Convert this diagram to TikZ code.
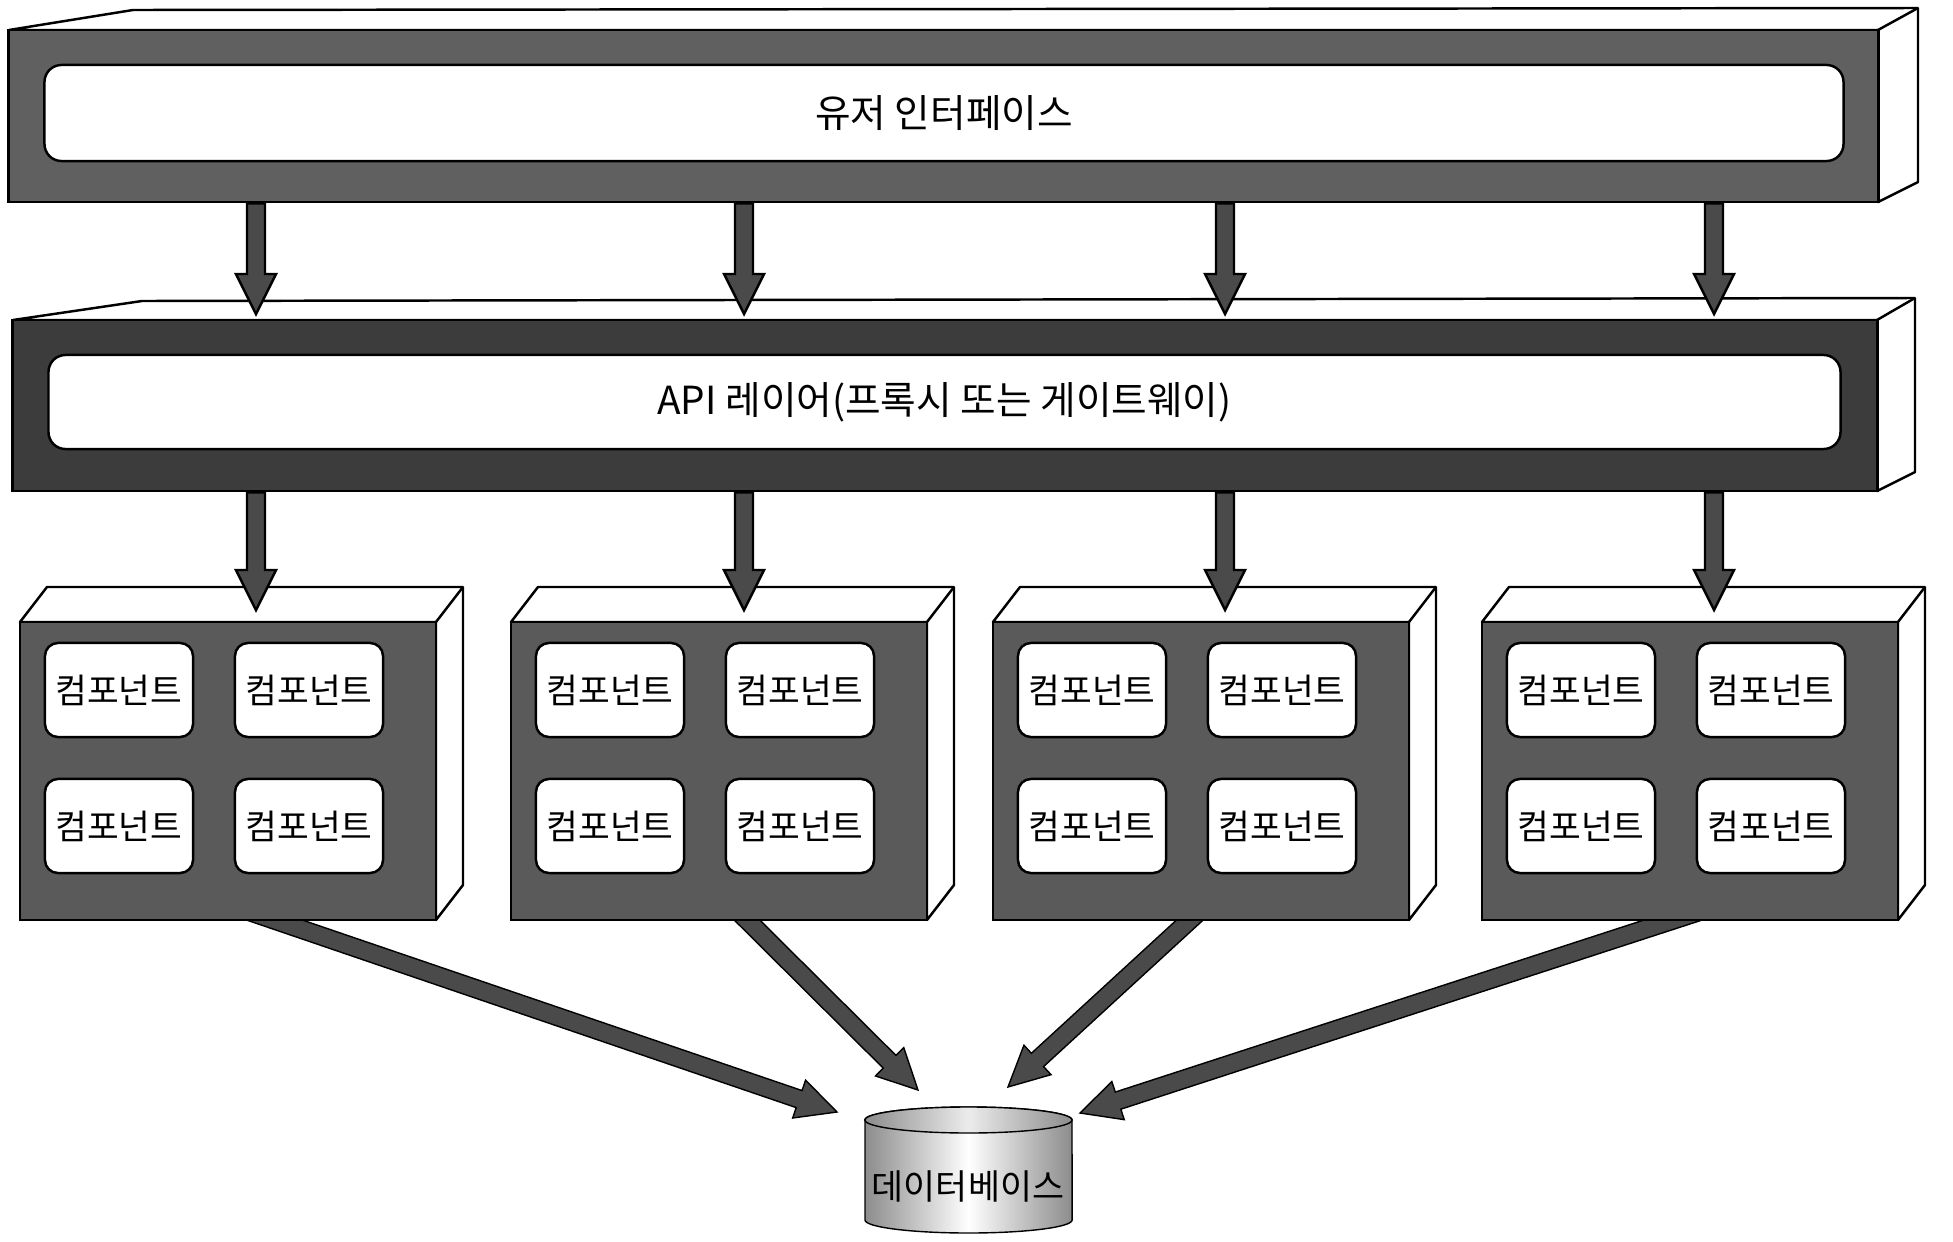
\documentclass[tikz,border=0pt]{standalone}
\usepackage{fontspec}
\setmainfont{Noto Sans CJK KR}
\usepackage{tikz}
\usetikzlibrary{calc}

\definecolor{uigray}{HTML}{606060}
\definecolor{apigray}{HTML}{3C3C3C}
\definecolor{svcgray}{HTML}{5A5A5A}
\definecolor{arrowgray}{HTML}{4A4A4A}
\definecolor{dbgray}{HTML}{8C8C8C}

\pgfdeclarelayer{bg}
\pgfsetlayers{bg,main}

% block arrow from #1 to #2
\newcommand{\fatarrow}[2]{%
  \coordinate (fa) at (#1);
  \coordinate (fb) at (#2);
  \coordinate (fh) at ($(fb)!0.4cm!(fa)$);
  \filldraw[arrowbody] ($(fa)!0.09cm!90:(fb)$) -- ($(fh)!0.09cm!90:(fb)$)
    -- ($(fh)!0.2cm!90:(fb)$) -- (fb) -- ($(fh)!0.2cm!-90:(fb)$)
    -- ($(fh)!0.09cm!-90:(fb)$) -- ($(fa)!0.09cm!-90:(fb)$) -- cycle;
}

\begin{document}
\begin{tikzpicture}[x=0.01cm, y=-0.01cm, line width=0.7pt,
  face/.style={draw, fill=white, line join=round},
  uifront/.style={draw, fill=uigray, minimum width=18.69cm, minimum height=1.72cm, inner sep=0pt},
  apifront/.style={draw, fill=apigray, minimum width=18.64cm, minimum height=1.71cm, inner sep=0pt},
  panel/.style={draw, fill=white, rounded corners=0.17cm, inner sep=0pt, font=\fontsize{11}{13}\selectfont},
  svcbox/.style={draw, fill=svcgray, minimum width=4.16cm, minimum height=2.98cm, inner sep=0pt},
  comp/.style={draw, fill=white, rounded corners=0.13cm, minimum width=1.48cm, minimum height=0.94cm, inner sep=0pt, font=\fontsize{9.8}{12}\selectfont},
  arrowbody/.style={draw, fill=arrowgray, line join=miter},
  dbtext/.style={font=\fontsize{9.9}{12}\selectfont}]

\useasboundingbox (0,0) rectangle (1953,1242);

% User interface bar
\draw[face] (9,30) -- (133,10) -- (1918,8) -- (1918,182) -- (1878,202) -- (1878,30) -- cycle;
\draw (1878,30) -- (1918,8);
\node[uifront] (uibar) at (943.5,116) {};
\node[panel, minimum width=17.98cm, minimum height=0.96cm] (ui) at (944,113) {유저 인터페이스};

% API layer bar
\draw[face] (13,320) -- (142,301) -- (1915,298) -- (1915,472) -- (1877,491) -- (1877,320) -- cycle;
\draw (1877,320) -- (1915,298);
\node[apifront] (apibar) at (945,405.5) {};
\node[panel, minimum width=17.91cm, minimum height=0.94cm] (api) at (944.5,402) {API 레이어(프록시 또는 게이트웨이)};

% Service boxes with four components each
\foreach \i/\cx/\ax in {1/228/256, 2/719/744, 3/1201/1225, 4/1690/1714} {
  \draw[face] (\cx-208,622) -- (\cx-181,587) -- (\cx+235,587) -- (\cx+235,885)
              -- (\cx+208,920) -- (\cx+208,622) -- cycle;
  \draw (\cx+208,622) -- (\cx+235,587);
  \node[svcbox] (svc\i) at (\cx,771) {};
  \node[comp] (comp\i1) at (\cx-109,690) {컴포넌트};
  \node[comp] (comp\i2) at (\cx+81,690) {컴포넌트};
  \node[comp] (comp\i3) at (\cx-109,826) {컴포넌트};
  \node[comp] (comp\i4) at (\cx+81,826) {컴포넌트};
  \coordinate (apiin\i) at (\ax,314);
  \coordinate (svcin\i) at (\ax,610);
}

% Arrows UI -> API -> services
\foreach \i in {1,...,4} {
  \fatarrow{uibar.south -| apiin\i}{apiin\i}
  \fatarrow{apibar.south -| svcin\i}{svcin\i}
}

% Arrow tips at the database
\coordinate (dbin1) at (837,1112);
\coordinate (dbin2) at (918,1090);
\coordinate (dbin3) at (1008,1087);
\coordinate (dbin4) at (1080,1113);

% Arrows services -> database, behind the boxes
\begin{pgfonlayer}{bg}
\foreach \i/\f in {1/0.62, 2/0.57, 3/0.47, 4/0.45} {
  \coordinate (svcout\i) at ($(svc\i.south west)!\f!(svc\i.south east)$);
  \fatarrow{$(svcout\i)!-0.3cm!(dbin\i)$}{dbin\i}
}
\end{pgfonlayer}

% Database
\shadedraw[left color=dbgray, right color=dbgray, middle color=white]
  (865,1120) -- (865,1220) arc[start angle=180, end angle=360, x radius=1.035cm, y radius=0.13cm]
  -- (1072,1120) arc[start angle=0, end angle=180, x radius=1.035cm, y radius=0.13cm] -- cycle;
\shadedraw[left color=dbgray, right color=dbgray, middle color=white!85!gray]
  (968.5,1120) ellipse [x radius=1.035cm, y radius=0.13cm];
\node[dbtext] (db) at (968,1186) {데이터베이스};

\end{tikzpicture}
\end{document}
